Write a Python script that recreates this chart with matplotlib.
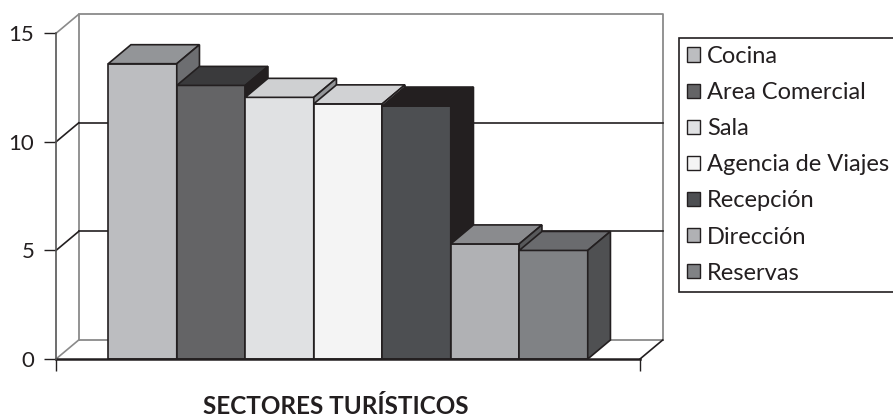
import matplotlib
matplotlib.use("Agg")
import matplotlib.pyplot as plt
from matplotlib.patches import Polygon, Patch

sectors = ["Cocina", "Area Comercial", "Sala", "Agencia de Viajes",
           "Recepción", "Dirección", "Reservas"]
values = [13.6, 12.6, 12.05, 11.75, 11.65, 5.3, 5.0]
front_colors = ["#bcbdc0", "#646466", "#e0e1e3", "#f4f4f4", "#4d4f52", "#b0b1b4", "#808285"]
top_colors = ["#939598", "#3a3a3c", "#cfd0d2", "#d1d2d4", "#231f20", "#8a8b8e", "#6a6b6e"]
side_colors = ["#6d6e71", "#231f20", "#939598", "#bcbdc0", "#231f20", "#58595b", "#4f5052"]
yticks = [0, 5, 10, 15]
xlabel = "SECTORES TURÍSTICOS"

plt.rcParams["font.family"] = ["Lato", "DejaVu Sans"]

W, H = 893, 420
fig = plt.figure(figsize=(W / 100, H / 100), dpi=100)
ax = fig.add_axes([56 / W, (H - 359) / H, 584 / W, (359 - 33.3) / H])

gap = 0.763
x0, x1 = -0.5 - gap, len(values) - 0.5 + gap
y0, y1 = 0, 15
ax.set_xlim(x0, x1)
ax.set_ylim(y0, y1)

# depth offset of the "3d" box, in data units
dx = 22.7 / 68.5
dy = 19 / 21.71

ink = "#231f20"
grey = "#8a8a8a"

# back wall + floor outline
ax.plot([x0 + dx, x0 + dx, x1 + dx, x1 + dx], [y0 + dy, y1 + dy, y1 + dy, y0 + dy],
        color=grey, lw=1.3, zorder=1, clip_on=False)
ax.plot([x0 + dx, x1 + dx], [dy, dy], color=grey, lw=1.3, zorder=1, clip_on=False)
for t in yticks:
    c = grey if t in (y0, y1) else ink
    ax.plot([x0, x0 + dx], [t, t + dy], color=c, lw=1.2, zorder=1, clip_on=False)
    if t not in (y0, y1):
        ax.plot([x0 + dx, x1 + dx], [t + dy, t + dy], color=ink, lw=1.2, zorder=1,
                clip_on=False)
ax.plot([x1, x1 + dx], [0, dy], color=ink, lw=1.2, zorder=1, clip_on=False)

# bars
for i, v in enumerate(values):
    xl, xr = i - 0.5, i + 0.5
    z = 5 + 3 * i
    ax.bar(i, v, width=1, color=front_colors[i], edgecolor=ink, lw=1.2, zorder=z)
    ax.add_patch(Polygon([(xl, v), (xr, v), (xr + dx, v + dy), (xl + dx, v + dy)],
                         closed=True, facecolor=top_colors[i], edgecolor=ink, lw=1.2,
                         zorder=z + 1, clip_on=False))
    ax.add_patch(Polygon([(xr, 0), (xr + dx, dy), (xr + dx, v + dy), (xr, v)],
                         closed=True, facecolor=side_colors[i], edgecolor=ink, lw=1.2,
                         zorder=z + 1, clip_on=False))

# front axis lines
ax.plot([x0, x1], [0, 0], color=ink, lw=1.8, zorder=40, clip_on=False)
ax.plot([x0, x0], [0, y1], color="#555555", lw=1.2, zorder=40, clip_on=False)

for s in ax.spines.values():
    s.set_visible(False)
ax.set_yticks(yticks)
ax.set_xticks([x0, x1])
ax.set_xticklabels([])
ax.tick_params(axis="y", length=8.6, width=1, color=ink, pad=7, labelsize=16,
               labelcolor=ink)
ax.tick_params(axis="x", length=8.6, width=1, color=ink)
ax.patch.set_visible(False)

fig.text(336 / W, 1 - 407 / H, xlabel, ha="center", va="center", fontsize=17.5,
         fontweight="bold", color=ink)

handles = [Patch(facecolor=c, edgecolor=ink, lw=1) for c in front_colors]
leg = fig.legend(handles, sectors, loc="upper left",
                 bbox_to_anchor=(679 / W, 1 - 37.7 / H), fontsize=17,
                 frameon=True, fancybox=False, edgecolor=ink, framealpha=1,
                 handlelength=0.55, handleheight=0.55, handletextpad=0.3,
                 labelspacing=0.64, borderpad=0.35, borderaxespad=0)
leg.get_frame().set_linewidth(1.2)
for t in leg.get_texts():
    t.set_color(ink)

fig.savefig("out.png", dpi=100)
